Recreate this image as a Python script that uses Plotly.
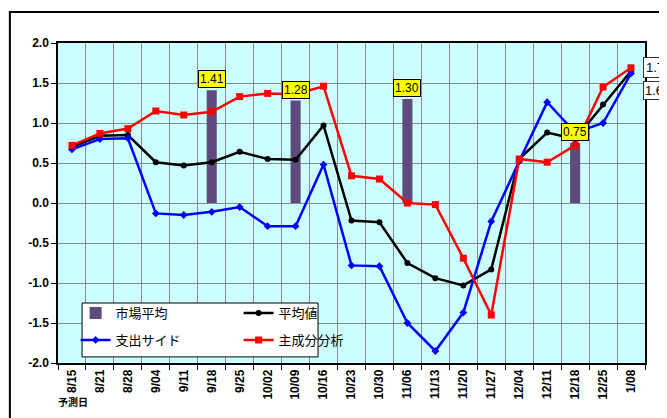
import plotly.graph_objects as go

categories = ["8/15", "8/21", "8/28", "9/04", "9/11", "9/18", "9/25", "10/02", "10/09", "10/16",
              "10/23", "10/30", "11/06", "11/13", "11/20", "11/27", "12/04", "12/11", "12/18",
              "12/25", "1/08"]
market_avg = [None, None, None, None, None, 1.41, None, None, 1.28, None,
              None, None, 1.30, None, None, None, None, None, 0.75, None, None]
mean_vals = [0.70, 0.84, 0.85, 0.51, 0.47, 0.51, 0.64, 0.55, 0.54, 0.97,
             -0.22, -0.24, -0.75, -0.94, -1.03, -0.83, 0.55, 0.88, 0.80, 1.23, 1.65]
spend_side = [0.67, 0.80, 0.81, -0.13, -0.15, -0.11, -0.05, -0.29, -0.29, 0.48,
              -0.78, -0.79, -1.50, -1.85, -1.37, -0.23, 0.52, 1.26, 0.88, 1.00, 1.62]
pca_vals = [0.72, 0.87, 0.93, 1.15, 1.10, 1.14, 1.33, 1.37, 1.36, 1.46,
            0.34, 0.30, 0.00, -0.02, -0.69, -1.40, 0.55, 0.51, 0.72, 1.45, 1.69]
y_ticks = [2.0, 1.5, 1.0, 0.5, 0.0, -0.5, -1.0, -1.5, -2.0]
y_tick_text = ["2.0", "1.5", "1.0", "0.5", "0.0", "-0.5", "-1.0", "-1.5", "-2.0"]

FONT = "Liberation Sans, Arial, Noto Sans CJK JP, sans-serif"

fig = go.Figure()
fig.add_trace(go.Bar(x=categories, y=market_avg, name="市場平均", marker_color="#5E4A7C",
                     width=0.36, marker_line_width=0, legend="legend"))
fig.add_trace(go.Scatter(x=categories, y=mean_vals, name="平均値", mode="lines+markers",
                         line=dict(color="black", width=2.5),
                         marker=dict(symbol="circle", size=6, color="black"), legend="legend"))
fig.add_trace(go.Scatter(x=categories, y=spend_side, name="支出サイド", mode="lines+markers",
                         line=dict(color="#0000FF", width=2.5),
                         marker=dict(symbol="diamond", size=6, color="#0000FF"), legend="legend2"))
fig.add_trace(go.Scatter(x=categories, y=pca_vals, name="主成分分析", mode="lines+markers",
                         line=dict(color="#FF0000", width=2.5),
                         marker=dict(symbol="square", size=7, color="#FF0000"), legend="legend2"))

annotations = []
for c, v in zip(categories, market_avg):
    if v is not None:
        annotations.append(dict(x=c, y=v, text=f"{v:.2f}", showarrow=False, yanchor="bottom",
                                yshift=2, bgcolor="#FFFF00", bordercolor="black", borderwidth=1,
                                borderpad=1, font=dict(size=12, color="black", family=FONT)))
annotations.append(dict(x=categories[-1], y=pca_vals[-1], text=f"{pca_vals[-1]:.1f}", showarrow=False,
                        xanchor="left", xshift=12, yshift=0, bgcolor="white", bordercolor="#333",
                        borderwidth=1, borderpad=2,
                        font=dict(size=13, color="black", family=FONT)))
annotations.append(dict(x=categories[-1], y=spend_side[-1], text=f"{spend_side[-1]:.1f}", showarrow=False,
                        xanchor="left", xshift=12, yshift=-17, bgcolor="white", bordercolor="#333",
                        borderwidth=1, borderpad=1,
                        font=dict(size=13, color="black", family=FONT)))
annotations.append(dict(x=-0.003, y=-0.147, xref="paper", yref="paper", text="<b>予測日</b>",
                        showarrow=False, font=dict(size=10, color="black", family=FONT)))

leg_common = dict(orientation="h", xanchor="left", yanchor="middle",
                  bgcolor="rgba(0,0,0,0)", borderwidth=0,
                  entrywidth=118, font=dict(size=13, family=FONT), itemwidth=30)

fig.update_layout(
    width=659, height=410,
    margin=dict(l=50, r=22, t=35, b=55, autoexpand=False),
    paper_bgcolor="white", plot_bgcolor="#CCFFFF",
    font=dict(family=FONT, color="black"),
    showlegend=True,
    legend=dict(x=0.03, y=0.156, **leg_common),
    legend2=dict(x=0.03, y=0.072, **leg_common),
    annotations=annotations,
    shapes=[dict(type="rect", xref="paper", yref="paper", x0=-0.082, y0=-0.4, x1=1.3, y1=1.097,
                 line=dict(color="black", width=2), fillcolor="rgba(0,0,0,0)", layer="below"),
            dict(type="rect", xref="paper", yref="paper", x0=0.041, y0=0.019, x1=0.443, y1=0.1875,
                 line=dict(color="black", width=1), fillcolor="white", layer="above")],
)
fig.update_xaxes(type="category", range=[-0.5, len(categories) - 0.5], autorange=False,
                 tickson="boundaries", ticks="outside", ticklen=5, tickcolor="black",
                 showgrid=True, gridcolor="#8A8A8A", gridwidth=1, tickangle=-90, automargin=False,
                 tickfont=dict(size=12, family=FONT, weight="bold"),
                 showline=True, linecolor="black", linewidth=1.5, mirror=True)
fig.update_yaxes(range=[-2, 2], tickvals=y_ticks, ticktext=y_tick_text, ticks="outside", ticklen=5,
                 tickcolor="black", showgrid=True, gridcolor="#8A8A8A", gridwidth=1, zeroline=False,
                 automargin=False, tickfont=dict(size=12, family=FONT, weight="bold"),
                 showline=True, linecolor="black", linewidth=1.5, mirror=True)

fig.write_html("out.html")
